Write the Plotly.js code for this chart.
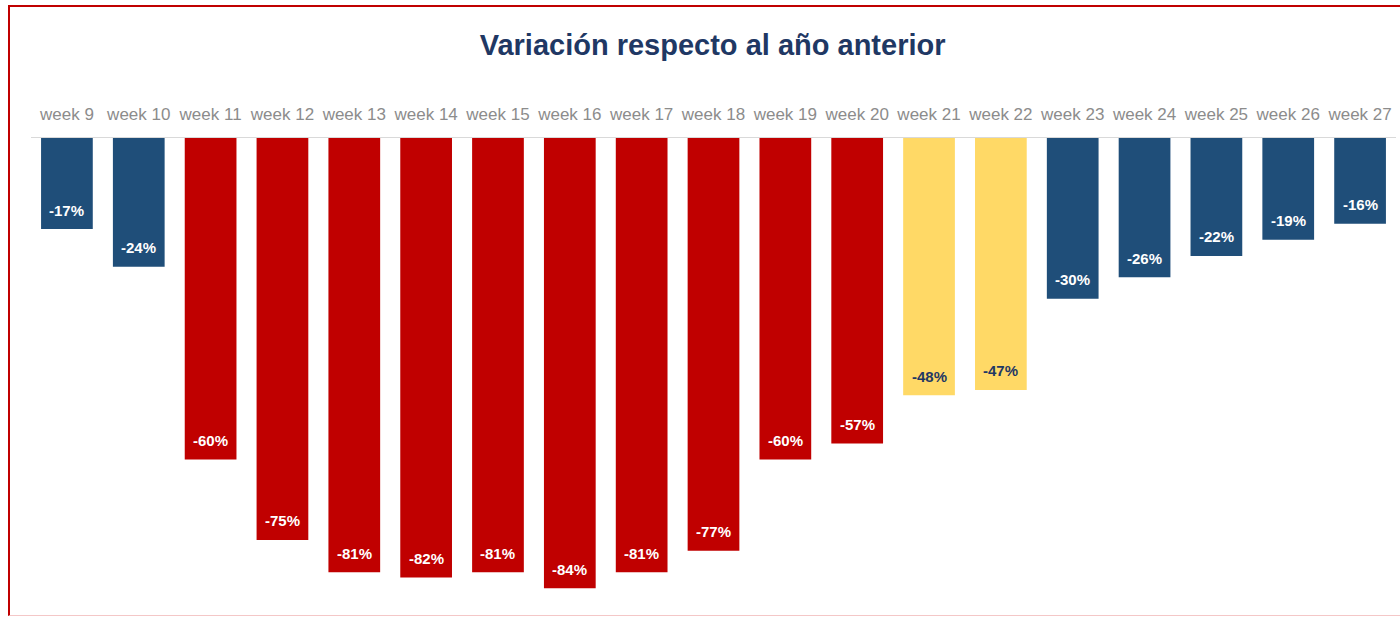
<!DOCTYPE html>
<html>
<head>
<meta charset="utf-8">
<script src="https://cdn.plot.ly/plotly-3.0.1.min.js"></script>
<style>
  html, body { margin: 0; padding: 0; background: #fff; overflow: hidden; }
  #frame {
    position: absolute; left: 8px; top: 5px; width: 1420px; height: 611px;
    border-left: 2px solid #c00000; border-top: 2px solid #c00000;
    border-bottom: 1px solid #f4c7c7; box-sizing: border-box;
  }
  #chart { position: absolute; left: 0; top: 0; width: 1400px; height: 617px; }
</style>
</head>
<body>
<div id="frame"></div>
<div id="chart"></div>
<script>
var weeks = ["week 9", "week 10", "week 11", "week 12", "week 13", "week 14", "week 15",
             "week 16", "week 17", "week 18", "week 19", "week 20", "week 21", "week 22",
             "week 23", "week 24", "week 25", "week 26", "week 27"];
var change = [-17, -24, -60, -75, -81, -82, -81, -84, -81, -77, -60, -57, -48, -47, -30, -26, -22, -19, -16];
// phase of each week: pre = blue, lockdown = red, reopening = yellow
var phase = ["pre", "pre", "lock", "lock", "lock", "lock", "lock", "lock", "lock", "lock",
             "lock", "lock", "open", "open", "pre", "pre", "pre", "pre", "pre"];

var barColor = {pre: "#1f4e79", lock: "#c00000", open: "#ffd966"};
var labelColor = {pre: "#ffffff", lock: "#ffffff", open: "#1f3864"};

var trace = {
    x: weeks,
    y: change,
    type: "bar",
    marker: {color: phase.map(function (p) { return barColor[p]; })},
    hoverinfo: "skip"
};

// value labels sit just above the bottom end of each bar
var labels = weeks.map(function (w, i) {
    return {
        x: w, y: change[i], xref: "x", yref: "y",
        text: "<b>" + change[i] + "%</b>",
        showarrow: false, yanchor: "middle", yshift: 19,
        font: {family: "Liberation Sans, Arial, sans-serif", size: 15, color: labelColor[phase[i]]}
    };
});

var layout = {
    width: 1400,
    height: 617,
    margin: {l: 31, r: 4, t: 138, b: 17},
    paper_bgcolor: "rgba(0,0,0,0)",
    plot_bgcolor: "rgba(0,0,0,0)",
    showlegend: false,
    bargap: 0.28,
    title: {
        text: "<b>Variación respecto al año anterior</b>",
        font: {family: "Liberation Sans, Arial, sans-serif", size: 29, color: "#1f3864"},
        x: 0.509, xanchor: "center", y: 0.927, yanchor: "middle"
    },
    xaxis: {
        side: "top",
        showline: true, linecolor: "#d9d9d9", linewidth: 1,
        ticks: "", ticklen: 0,
        ticklabelstandoff: 10,
        tickfont: {family: "Liberation Sans, Arial, sans-serif", size: 17, color: "#8c8c8c"},
        fixedrange: true
    },
    yaxis: {
        range: [-86.2, 0],
        visible: false,
        showgrid: false,
        zeroline: false,
        fixedrange: true
    },
    annotations: labels
};

Plotly.newPlot("chart", [trace], layout, {staticPlot: true, displayModeBar: false});
</script>
</body>
</html>
